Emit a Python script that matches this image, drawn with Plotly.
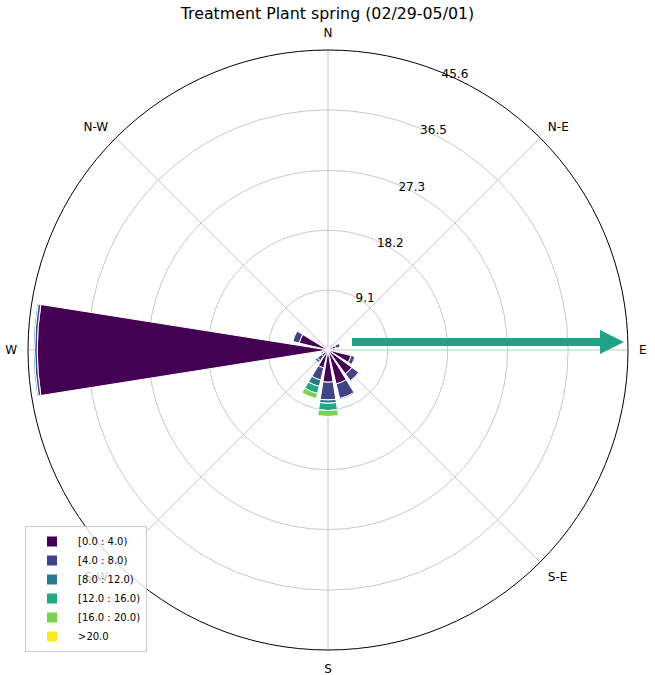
import plotly.graph_objects as go

directions = [0, 22.5, 45, 67.5, 90, 112.5, 135, 157.5,
              180, 202.5, 225, 247.5, 270, 292.5, 315, 337.5]

bin_labels = ["[0.0 : 4.0)", "[4.0 : 8.0)", "[8.0 : 12.0)",
              "[12.0 : 16.0)", "[16.0 : 20.0)", ">20.0"]
bin_colors = ["#440154", "#414487", "#2a788e", "#22a884", "#7ad151", "#fde725"]

# frequency (%) per direction for each speed bin
bin0 = [0.3, 0.3, 0.5, 1.2, 1.0, 3.6, 4.5, 5.3, 4.9, 2.8, 1.2, 0.8, 44.2, 4.5, 0.6, 0.3]
bin1 = [0.1, 0.1, 0.2, 0.7, 0.2, 0.6, 1.3, 2.3, 2.7, 1.9, 0.8, 0.3, 0.4, 1.0, 0.1, 0.0]
bin2 = [0.0, 0.0, 0.0, 0.0, 0.0, 0.0, 0.1, 0.2, 0.5, 1.0, 0.4, 0.1, 0.2, 0.0, 0.0, 0.0]
bin3 = [0.0, 0.0, 0.0, 0.0, 0.0, 0.0, 0.0, 0.1, 1.1, 1.1, 0.0, 0.0, 0.0, 0.0, 0.0, 0.0]
bin4 = [0.0, 0.0, 0.0, 0.0, 0.0, 0.0, 0.0, 0.0, 0.9, 0.8, 0.0, 0.0, 0.0, 0.0, 0.0, 0.0]
bin5 = [0.0] * 16
bins = [bin0, bin1, bin2, bin3, bin4, bin5]

radial_ticks = [9.1, 18.2, 27.3, 36.5, 45.6]
radial_max = 45.6
compass_vals = [0, 45, 90, 135, 180, 225, 270, 315]
compass_text = ["N", "N-E", "E", "S-E", "S", "S-W", "W", "N-W"]

fig = go.Figure()
for vals, name, col in zip(bins, bin_labels, bin_colors):
    fig.add_trace(go.Barpolar(
        r=vals, theta=directions, width=18, name=name,
        marker=dict(color=col, line=dict(color="white", width=1)),
    ))

W, H = 655, 675
L, R, T, B = 28, 27, 50, 25
pw, ph = W - L - R, H - T - B

def px(x):
    return (x - L) / pw

def py(y):
    return (H - B - y) / ph

# wind direction arrow (overlay)
ay = 342
x0, x1, xh = 352, 600, 624
hw, hh = 4, 12
path = (f"M {px(x0)},{py(ay - hw)} L {px(x1)},{py(ay - hw)} L {px(x1)},{py(ay - hh)} "
        f"L {px(xh)},{py(ay)} L {px(x1)},{py(ay + hh)} L {px(x1)},{py(ay + hw)} "
        f"L {px(x0)},{py(ay + hw)} Z")
fig.add_shape(type="path", xref="paper", yref="paper", path=path,
              fillcolor="#1fa387", line=dict(width=0))

fig.update_layout(
    width=W, height=H,
    margin=dict(l=L, r=R, t=T, b=B, autoexpand=False),
    paper_bgcolor="white", plot_bgcolor="white",
    font=dict(family="DejaVu Sans", size=12, color="#000000"),
    title=dict(text="Treatment Plant spring (02/29-05/01)",
               x=0.5, xanchor="center", y=1 - 13 / H, yanchor="middle",
               font=dict(size=15.8, color="#000000")),
    showlegend=True,
    legend=dict(x=px(25), y=py(652), xanchor="left", yanchor="bottom",
                traceorder="normal", bgcolor="rgba(255,255,255,0.8)",
                bordercolor="#cccccc", borderwidth=1,
                font=dict(size=10, color="#000000"),
                itemsizing="constant", itemwidth=42, tracegroupgap=0),
    polar=dict(
        bgcolor="white",
        barmode="stack",
        angularaxis=dict(rotation=90, direction="clockwise",
                         tickmode="array", tickvals=compass_vals, ticktext=compass_text,
                         showline=True, linecolor="black", linewidth=1,
                         gridcolor="#c8c8c8", gridwidth=1,
                         ticks="outside", ticklen=8, tickcolor="rgba(0,0,0,0)",
                         tickfont=dict(size=12)),
        radialaxis=dict(range=[0, radial_max], tickmode="array",
                        tickvals=radial_ticks, ticktext=[str(v) for v in radial_ticks],
                        angle=69, tickangle=69,
                        showline=False, ticks="",
                        gridcolor="#c8c8c8", gridwidth=1,
                        tickfont=dict(size=12)),
    ),
)

fig.write_html("out.html", config={"displayModeBar": False},
               post_script="document.body.style.margin='0';")
